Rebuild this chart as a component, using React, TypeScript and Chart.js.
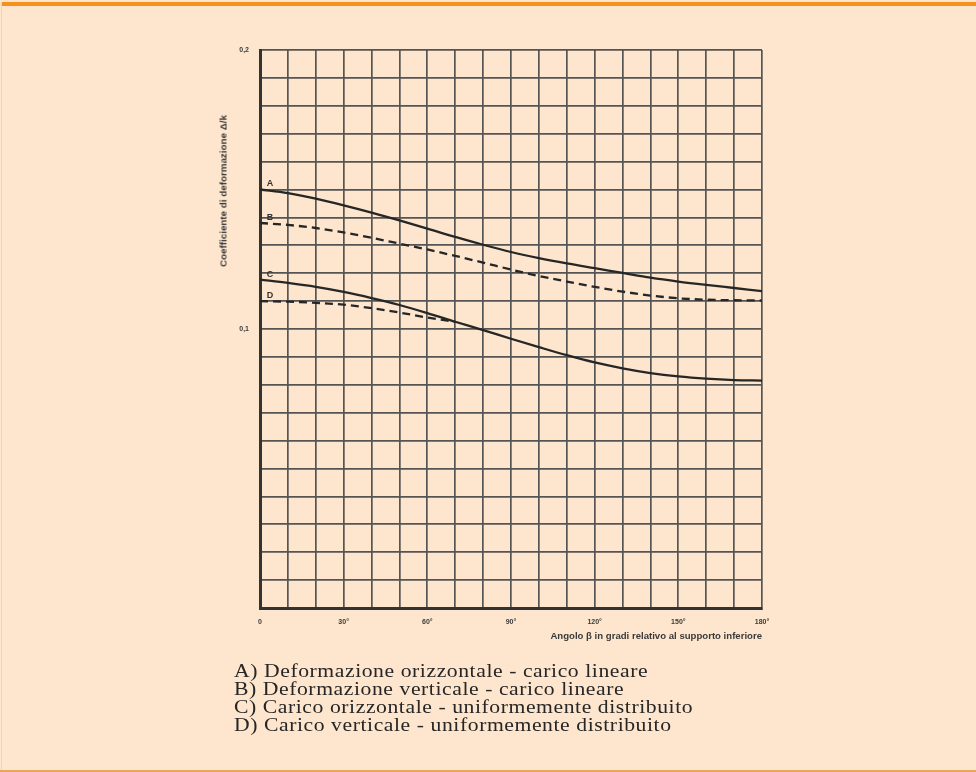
import React, { useEffect, useRef } from 'react';
import { Chart, registerables } from 'chart.js';

Chart.register(...registerables);

// ---- data ----
const angles = [0, 10, 20, 30, 40, 50, 60, 70, 80, 90, 100, 110, 120, 130, 140, 150, 160, 170, 180];
const seriesA = [0.150, 0.1487, 0.1467, 0.1443, 0.1417, 0.1389, 0.1360, 0.1330, 0.1302, 0.1276, 0.1254, 0.1235, 0.1218, 0.1201, 0.1184, 0.1170, 0.1158, 0.1147, 0.1136];
const seriesB = [0.138, 0.1373, 0.1362, 0.1346, 0.1327, 0.1306, 0.1285, 0.1262, 0.1238, 0.1213, 0.1190, 0.1170, 0.1151, 0.1134, 0.1120, 0.1110, 0.1105, 0.1103, 0.1102];
const seriesC = [0.1177, 0.1165, 0.1151, 0.1133, 0.1111, 0.1086, 0.1057, 0.1026, 0.0996, 0.0965, 0.0935, 0.0906, 0.0880, 0.0859, 0.0842, 0.0830, 0.0822, 0.0817, 0.0815];
const seriesD = [0.110, 0.1098, 0.1094, 0.1087, 0.1075, 0.1059, 0.1041, 0.1026];
const curveLetters = ['A', 'B', 'C', 'D'];
const dashedCurves = [false, true, false, true];
const legendLines = [
  'A) Deformazione orizzontale - carico lineare',
  'B) Deformazione verticale - carico lineare',
  'C) Carico orizzontale - uniformemente distribuito',
  'D) Carico verticale - uniformemente distribuito',
];
const yLabelValues = [0.1, 0.2];
const yLabelTexts = ['0,1', '0,2'];
const xLabelStep = 30;
const xAxisTitle = 'Angolo β in gradi relativo al supporto inferiore';
const yAxisTitle = 'Coefficiente di deformazione Δ/k';

const INK = '#262626';
const BG = '#fde6cd';

const letterPlugin = {
  id: 'curveLetters',
  afterDatasetsDraw(chart: any) {
    const { ctx, scales } = chart;
    const x = scales.x;
    const y = scales.y;
    ctx.save();
    ctx.font = 'bold 9px "Liberation Sans"';
    ctx.fillStyle = '#333';
    ctx.textAlign = 'center';
    ctx.textBaseline = 'bottom';
    chart.data.datasets.forEach((ds: any, i: number) => {
      const p = ds.data[0];
      ctx.fillText(curveLetters[i], x.getPixelForValue(p.x) + 10, y.getPixelForValue(p.y) - 1);
    });
    ctx.restore();
  },
};

function ChartCanvas() {
  const ref = useRef<HTMLCanvasElement | null>(null);
  useEffect(() => {
    if (!ref.current) return;
    const all = [seriesA, seriesB, seriesC, seriesD];
    const datasets = all.map((s, i) => ({
      label: curveLetters[i],
      data: s.map((v, k) => ({ x: angles[k], y: v })),
      borderColor: INK,
      borderWidth: 2.3,
      borderDash: dashedCurves[i] ? [8, 5] : [],
      pointRadius: 0,
      fill: false,
      cubicInterpolationMode: 'monotone' as const,
    }));
    const chart = new Chart(ref.current, {
      type: 'line',
      data: { datasets },
      plugins: [letterPlugin],
      options: {
        animation: false,
        responsive: false,
        devicePixelRatio: 1,
        layout: { padding: { left: 200, top: 50, right: 214, bottom: 124 } },
        plugins: { legend: { display: false }, tooltip: { enabled: false } },
        scales: {
          x: {
            type: 'linear',
            min: 0,
            max: 180,
            afterFit: (s: any) => { s.height = 40; },
            ticks: {
              stepSize: 10,
              autoSkip: false,
              maxRotation: 0,
              padding: 10,
              color: '#3a3a3a',
              font: { family: 'Liberation Sans', size: 7, weight: 'bold' },
              callback: (v: any) => {
                const n = Math.round(Number(v));
                if (n % xLabelStep !== 0) return '';
                return n === 0 ? '0' : n + '°';
              },
            },
            grid: { color: '#555', lineWidth: 1.7, drawTicks: false },
            border: { display: true, color: '#333', width: 3 },
            title: {
              display: true,
              text: xAxisTitle,
              align: 'end',
              color: '#3a3a3a',
              font: { family: 'Liberation Sans', size: 9.6, weight: 'bold' },
              padding: { top: 0, bottom: 6 },
            },
          },
          y: {
            type: 'linear',
            min: 0,
            max: 0.2,
            afterFit: (s: any) => { s.width = 60; },
            ticks: {
              stepSize: 0.01,
              autoSkip: false,
              padding: 11,
              color: '#3a3a3a',
              font: { family: 'Liberation Sans', size: 7, weight: 'bold' },
              callback: (v: any) => {
                const n = Number(v);
                for (let i = 0; i < yLabelValues.length; i++) {
                  if (Math.abs(n - yLabelValues[i]) < 1e-6) return yLabelTexts[i];
                }
                return '';
              },
            },
            grid: { color: '#555', lineWidth: 1.7, drawTicks: false },
            border: { display: true, color: '#333', width: 3 },
          },
        },
      },
    });
    return () => chart.destroy();
  }, []);
  return <canvas ref={ref} width={976} height={772} style={{ position: 'absolute', left: 0, top: 0, width: 976, height: 772 }} />;
}

export default function App() {
  return (
    <div style={{ position: 'fixed', left: 0, top: 0, width: 976, height: 772, background: BG, overflow: 'hidden' }}>
      <div style={{ position: 'absolute', left: 2, right: 0, top: 2, height: 4, background: '#f5921e' }} />
      <div style={{ position: 'absolute', left: 1, top: 2, bottom: 0, width: 1, background: '#ead6c0' }} />
      <div style={{ position: 'absolute', left: 0, right: 0, top: 770, height: 2, background: '#e8a65c' }} />
      <ChartCanvas />
      <div
        style={{
          position: 'absolute',
          left: 223,
          top: 191,
          transform: 'translate(-50%, -50%) rotate(-90deg)',
          whiteSpace: 'nowrap',
          fontFamily: 'Liberation Sans',
          fontWeight: 'bold',
          fontSize: 9.8,
          color: '#3a3a3a',
        }}
      >
        {yAxisTitle}
      </div>
      <div
        style={{
          position: 'absolute',
          left: 234,
          top: 662,
          fontFamily: '"Liberation Serif", "DejaVu Serif", serif',
          fontSize: 19,
          lineHeight: '18px',
          letterSpacing: '0.5px',
          color: '#262626',
          whiteSpace: 'nowrap',
          transform: 'scaleX(1.14)',
          transformOrigin: 'left top',
        }}
      >
        {legendLines.map((t) => (
          <div key={t}>{t}</div>
        ))}
      </div>
    </div>
  );
}
